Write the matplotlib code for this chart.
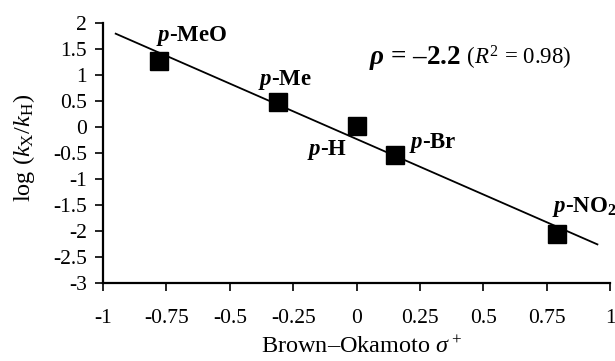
import numpy as np
import matplotlib
matplotlib.use('Agg')
import matplotlib.pyplot as plt

# substituent data (Brown-Okamoto sigma+ vs log(kX/kH))
labels = ['MeO', 'Me', 'H', 'Br', 'NO$_\\mathbf{2}$']
sigma = [-0.78, -0.31, 0.0, 0.15, 0.79]
logk = [1.27, 0.48, 0.02, -0.54, -2.06]
# label anchors (left edge, vertical centre) in data units
lab_x = [-0.79, -0.39, -0.195, 0.205, 0.77]
lab_y = [1.75, 0.90, -0.44, -0.31, -1.54]
line_x = [-0.95, 0.95]

xticks = [-1, -0.75, -0.5, -0.25, 0, 0.25, 0.5, 0.75, 1]
xticklabels = ['-1', '-0.75', '-0.5', '-0.25', '0', '0.25', '0.5', '0.75', '1']
yticks = [-3, -2.5, -2, -1.5, -1, -0.5, 0, 0.5, 1, 1.5, 2]
yticklabels = ['-3', '-2.5', '-2', '-1.5', '-1', '-0.5', '0', '0.5', '1', '1.5', '2']

plt.rcParams['font.family'] = 'Liberation Serif'
plt.rcParams['mathtext.fontset'] = 'custom'
plt.rcParams['mathtext.rm'] = 'Liberation Serif'
plt.rcParams['mathtext.it'] = 'Liberation Serif:italic'
plt.rcParams['mathtext.bf'] = 'Liberation Serif:bold'
plt.rcParams['mathtext.bfit'] = 'Liberation Serif:italic:bold'

fig = plt.figure(figsize=(6.15, 3.61), dpi=100)
ax = fig.add_axes([0.1675, 0.216, 0.8245, 0.72])

# least squares fit line
m, b = np.polyfit(sigma, logk, 1)
lx = np.array(line_x)
ax.plot(lx, m * lx + b, color='black', lw=1.3, zorder=2)
ax.plot(sigma, logk, 's', color='black', ms=12.5, zorder=3)

for t, x, y in zip(labels, lab_x, lab_y):
    ax.text(x, y, r'$\mathbfit{p}$-' + t, fontsize=16.5, fontweight='bold',
            ha='left', va='center', clip_on=False)

t1 = ax.text(0.05, 1.33, r'$\mathbfit{\rho}$ = –2.2', fontsize=19.5, fontweight='bold',
             ha='left', va='center')
ax.annotate(r' ($R^2$ = 0.98)', xy=(1, 0.5), xycoords=t1, fontsize=16.5,
            ha='left', va='center')

ax.set_xlim(-1, 1)
ax.set_ylim(-3, 2)
ax.set_xticks(xticks)
ax.set_xticklabels(xticklabels)
ax.set_yticks(yticks)
ax.set_yticklabels(yticklabels)
ax.tick_params(axis='x', direction='out', length=5.5, width=1.2, pad=13, labelsize=15.5)
ax.tick_params(axis='y', direction='out', length=5.5, width=1.2, pad=6, labelsize=15.5)
for s in ['top', 'right']:
    ax.spines[s].set_visible(False)
for s in ['left', 'bottom']:
    ax.spines[s].set_linewidth(1.6)

ax.set_xlabel(r'Brown–Okamoto $\sigma^+$', fontsize=17.5)
ax.set_ylabel(r'log ($k_{\mathrm{X}}$/$k_{\mathrm{H}}$)', fontsize=17.5)
ax.xaxis.set_label_coords(0.51, -0.205)
ax.yaxis.set_label_coords(-0.13, 0.52)

fig.savefig('out.png', dpi=100)
